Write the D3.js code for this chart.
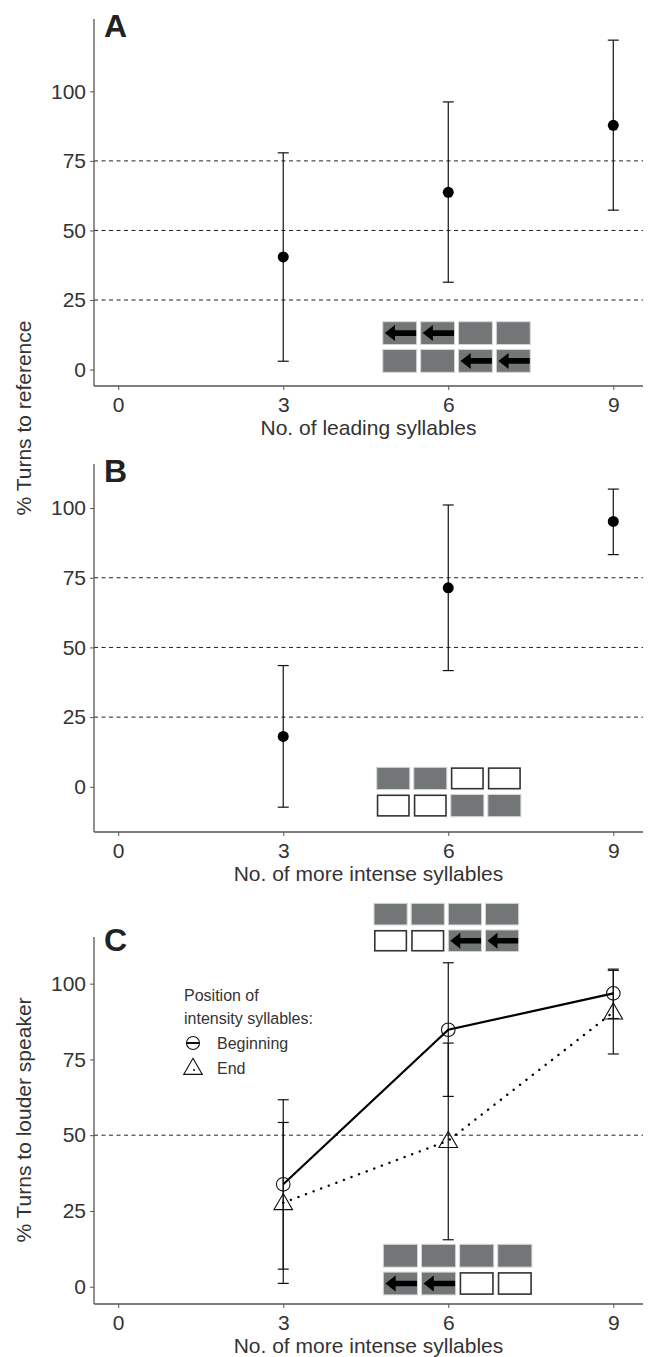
<!DOCTYPE html>
<html>
<head>
  <meta charset="utf-8">
  <title>Turns to reference</title>
  <script src="https://cdn.jsdelivr.net/npm/d3@7"></script>
  <style>
    body,html{
      margin:0;
      padding:0;
      background:#fff;
    }
    text{
      font-family: "Liberation Sans", Arial, Helvetica, sans-serif;
    }
  </style>
</head>
<body>
  <div id="chart"></div>
  <script>

    // ---- data ----
    var syllables = [3, 6, 9];
    var xTicks = [0, 3, 6, 9];
    var yTicks = [0, 25, 50, 75, 100];

    // panel A: leading syllables
    var meanA = [40.5, 63.7, 87.8];
    var lowA  = [3.0, 31.4, 57.3];
    var highA = [77.9, 96.2, 118.4];

    // panel B: more intense syllables
    var meanB = [18.1, 71.4, 95.2];
    var lowB  = [-7.3, 41.7, 83.3];
    var highB = [43.5, 101.1, 106.8];

    // panel C: turns to louder speaker, by position of intensity syllables
    var positions = ['Beginning', 'End'];
    var meanBegin = [33.8, 84.8, 96.8];
    var lowBegin  = [5.8, 62.8, 88.5];
    var highBegin = [61.7, 106.9, 104.8];
    var meanEnd   = [27.7, 48.2, 90.6];
    var lowEnd    = [1.1, 15.5, 76.8];
    var highEnd   = [54.2, 80.4, 104.4];

    // stimulus pictograms (g = grey, a = grey with arrow, w = white)
    var iconA    = [['a','a','g','g'], ['g','g','a','a']];
    var iconB    = [['g','g','w','w'], ['w','w','g','g']];
    var iconCtop = [['g','g','g','g'], ['w','w','a','a']];
    var iconCbot = [['g','g','g','g'], ['a','a','w','w']];

    // ---- layout ----
    var W = 649, H = 1357;
    var left = 94, right = 643;

    var panels = [
      {letter:'A', top:19,  bottom:386,  ydom:[-5.9, 126],   xlab:'No. of leading syllables', refs:[25,50,75]},
      {letter:'B', top:464, bottom:832,  ydom:[-16.2, 115.8], xlab:'No. of more intense syllables', refs:[25,50,75]},
      {letter:'C', top:937, bottom:1304, ydom:[-5.7, 115.4], xlab:'No. of more intense syllables', refs:[50]}
    ];

    var svg = d3.select('#chart').append('svg')
      .attr('width', W).attr('height', H);

    var x = d3.scaleLinear().domain([-0.44, 9.54]).range([left, right]);

    var textCol = '#333', axisCol = '#555';

    panels.forEach(function(p){
      p.y = d3.scaleLinear().domain(p.ydom).range([p.bottom, p.top]);
      var g = svg.append('g');

      // reference lines
      g.selectAll('line.ref').data(p.refs).enter().append('line')
        .attr('class','ref')
        .attr('x1', left).attr('x2', right)
        .attr('y1', function(d){ return p.y(d); })
        .attr('y2', function(d){ return p.y(d); })
        .attr('stroke', '#222').attr('stroke-width', 1)
        .attr('stroke-dasharray', '4,3.5');

      // axes
      var ya = g.append('g').attr('transform','translate('+left+',0)')
        .call(d3.axisLeft(p.y).tickValues(yTicks).tickSize(4).tickPadding(4));
      var xa = g.append('g').attr('transform','translate(0,'+p.bottom+')')
        .call(d3.axisBottom(x).tickValues(xTicks).tickSize(4).tickPadding(4));
      [ya, xa].forEach(function(a){
        a.select('.domain').attr('stroke', axisCol).attr('stroke-width', 1.3);
        a.selectAll('.tick line').attr('stroke', axisCol);
        a.selectAll('.tick text').attr('fill', textCol).style('font-size','21px')
          .style('font-family','"Liberation Sans", Arial, sans-serif');
      });
      // the axes should not run past the panel area
      ya.select('.domain').attr('d', 'M0,'+p.bottom+'V'+p.top);
      xa.select('.domain').attr('d', 'M'+left+',0H'+right);
      xa.selectAll('.tick text').attr('y', 7).attr('dy', '0.9em');

      g.append('text')
        .attr('x', (left+right)/2).attr('y', p.bottom+49)
        .attr('text-anchor','middle').attr('fill', textCol)
        .style('font-size','21px')
        .text(p.xlab);

      g.append('text')
        .attr('x', 104).attr('y', p.top + (p.letter==='C' ? 14 : 18))
        .attr('fill', '#222').style('font-size','32px').style('font-weight','bold')
        .text(p.letter);
    });

    // y axis titles
    svg.append('text')
      .attr('transform','translate(31,418) rotate(-90)')
      .attr('text-anchor','middle').attr('fill', textCol).style('font-size','21px')
      .text('% Turns to reference');
    svg.append('text')
      .attr('transform','translate(31,1120) rotate(-90)')
      .attr('text-anchor','middle').attr('fill', textCol).style('font-size','21px')
      .text('% Turns to louder speaker');

    // pictograms
    function drawIcon(p, cells, x0, x1, y0, y1){
      var g = svg.append('g');
      var px0 = x(x0), px1 = x(x1), py0 = p.y(y1), py1 = p.y(y0);
      var gapX = 4, gapY = 5;
      var cw = (px1 - px0 - 3*gapX)/4, ch = (py1 - py0 - gapY)/2;
      cells.forEach(function(row, r){
        row.forEach(function(c, k){
          var cx = px0 + k*(cw+gapX), cy = py0 + r*(ch+gapY);
          if(c === 'w'){
            g.append('rect').attr('x', cx+0.8).attr('y', cy+0.8)
              .attr('width', cw-1.6).attr('height', ch-1.6)
              .attr('fill','#fff').attr('stroke','#333').attr('stroke-width',1.6);
          } else {
            g.append('rect').attr('x', cx).attr('y', cy)
              .attr('width', cw).attr('height', ch)
              .attr('fill','#737677').attr('stroke','#d4d6d6').attr('stroke-width',1);
          }
          if(c === 'a'){
            var mid = cy + ch/2, tip = cx + 2, base = cx + cw*0.36;
            g.append('path')
              .attr('d', 'M'+tip+','+mid+'L'+base+','+(mid-8)+'L'+base+','+(mid-2.8)+
                'L'+(cx+cw-0.5)+','+(mid-2.8)+'L'+(cx+cw-0.5)+','+(mid+2.8)+
                'L'+base+','+(mid+2.8)+'L'+base+','+(mid+8)+'Z')
              .attr('fill','#000');
          }
        });
      });
    }
    drawIcon(panels[0], iconA,    4.81, 7.49, -0.98, 17.2);
    drawIcon(panels[1], iconB,    4.70, 7.32, -10.7, 7.0);
    drawIcon(panels[2], iconCtop, 4.65, 7.28, 110.6, 126.5);
    drawIcon(panels[2], iconCbot, 4.82, 7.52, -2.7, 14.0);

    // error bars helper
    function errorBars(p, xs, lo, hi){
      var g = svg.append('g').attr('stroke','#111').attr('stroke-width',1.2);
      xs.forEach(function(d, i){
        g.append('line').attr('x1', x(d)).attr('x2', x(d))
          .attr('y1', p.y(lo[i])).attr('y2', p.y(hi[i]));
        [lo[i], hi[i]].forEach(function(v){
          g.append('line').attr('x1', x(d)-5.5).attr('x2', x(d)+5.5)
            .attr('y1', p.y(v)).attr('y2', p.y(v));
        });
      });
    }

    // panels A and B: filled points
    [[panels[0], meanA, lowA, highA], [panels[1], meanB, lowB, highB]].forEach(function(s){
      var p = s[0];
      errorBars(p, syllables, s[2], s[3]);
      svg.append('g').selectAll('circle').data(s[1]).enter().append('circle')
        .attr('cx', function(d,i){ return x(syllables[i]); })
        .attr('cy', function(d){ return p.y(d); })
        .attr('r', 5.5).attr('fill','#000');
    });

    // panel C
    var pc = panels[2];
    errorBars(pc, syllables, lowBegin, highBegin);
    errorBars(pc, syllables, lowEnd, highEnd);

    var line = d3.line()
      .x(function(d,i){ return x(syllables[i]); })
      .y(function(d){ return pc.y(d); });

    svg.append('path').datum(meanBegin).attr('d', line)
      .attr('fill','none').attr('stroke','#000').attr('stroke-width',2.2);
    svg.append('path').datum(meanEnd).attr('d', line)
      .attr('fill','none').attr('stroke','#000').attr('stroke-width',2.4)
      .attr('stroke-linecap','round').attr('stroke-dasharray','0.1,8');

    svg.append('g').selectAll('circle').data(meanBegin).enter().append('circle')
      .attr('cx', function(d,i){ return x(syllables[i]); })
      .attr('cy', function(d){ return pc.y(d); })
      .attr('r', 6.8).attr('fill','none').attr('stroke','#111').attr('stroke-width',1.1);

    var tri = d3.symbol().type(d3.symbolTriangle).size(150);
    svg.append('g').selectAll('path').data(meanEnd).enter().append('path')
      .attr('d', tri)
      .attr('transform', function(d,i){ return 'translate('+x(syllables[i])+','+(pc.y(d)+1.5)+')'; })
      .attr('fill','none').attr('stroke','#111').attr('stroke-width',1.1);

    // legend
    var lg = svg.append('g').attr('fill', textCol).style('font-size','16px');
    lg.append('text').attr('x', 184).attr('y', 1001).text('Position of');
    lg.append('text').attr('x', 184).attr('y', 1024).text('intensity syllables:');
    positions.forEach(function(name, i){
      var cy = 1043 + i*25;
      lg.append('text').attr('x', 217).attr('y', cy+5.5).text(name);
      if(i === 0){
        lg.append('circle').attr('cx', 193).attr('cy', cy).attr('r', 6.5)
          .attr('fill','none').attr('stroke','#111').attr('stroke-width',1.1);
        lg.append('line').attr('x1', 186.5).attr('x2', 199.5).attr('y1', cy).attr('y2', cy)
          .attr('stroke','#111').attr('stroke-width',2);
      } else {
        lg.append('path').attr('d', tri)
          .attr('transform','translate(193,'+(cy+1)+')')
          .attr('fill','none').attr('stroke','#111').attr('stroke-width',1.1);
        lg.append('circle').attr('cx', 194).attr('cy', cy+2).attr('r', 1).attr('fill','#111');
      }
    });

  </script>
</body>
</html>
